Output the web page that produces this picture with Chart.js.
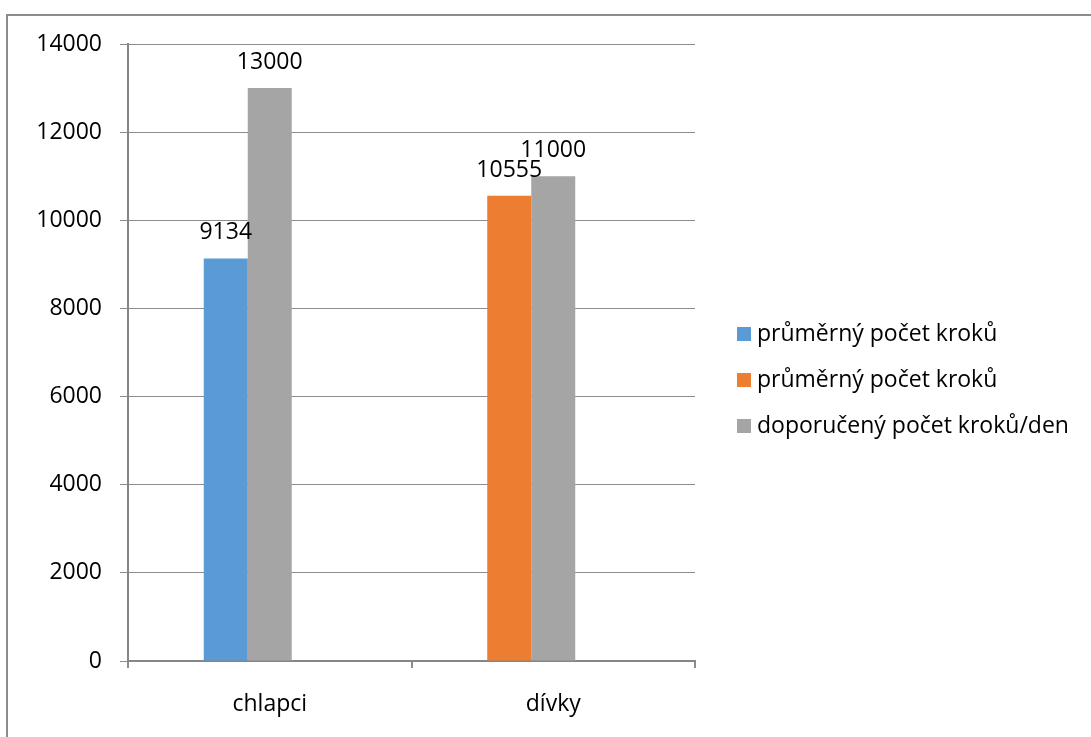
<!DOCTYPE html>
<html>
<head>
<meta charset="utf-8">
<script src="https://cdn.jsdelivr.net/npm/chart.js@4.4.1/dist/chart.umd.min.js"></script>
<style>
  html, body { margin: 0; padding: 0; background: #fff; }
  #wrap { position: relative; width: 1091px; height: 737px; overflow: hidden; }
  #frame { position: absolute; left: 6px; top: 14px; width: 1200px; height: 800px;
           border-top: 2px solid #8c8c8c; border-left: 2px solid #8c8c8c; pointer-events: none; }
</style>
</head>
<body>
<div id="wrap">
  <canvas id="steps"></canvas>
  <div id="frame"></div>
</div>
<script>
    // data
    var categories = ["chlapci", "dívky"];
    var boysAvg = [9134, null];
    var girlsAvg = [null, 10555];
    var recommended = [13000, 11000];
    var seriesNames = ["průměrný počet kroků", "průměrný počet kroků", "doporučený počet kroků/den"];
    var yMin = 0, yMax = 14000, yStep = 2000;

    var blue = "#5B9BD5", orange = "#ED7D31", grey = "#A5A5A5";
    var font = "'Open Sans', sans-serif";
    var fontSize = 23;

    Chart.defaults.color = "#000000";
    Chart.defaults.font.family = font;
    Chart.defaults.font.size = fontSize;

    // values above the bars
    var valueLabels = {
        id: "valueLabels",
        afterDatasetsDraw: function (chart) {
            var ctx = chart.ctx;
            ctx.save();
            ctx.font = fontSize + "px " + font;
            ctx.fillStyle = "#000";
            ctx.textAlign = "center";
            ctx.textBaseline = "alphabetic";
            chart.data.datasets.forEach(function (ds, i) {
                if (ds.phantom) return;
                chart.getDatasetMeta(i).data.forEach(function (bar, j) {
                    var v = ds.data[j];
                    if (v === null || v === undefined) return;
                    ctx.fillText(String(v), bar.x, bar.y - 19);
                });
            });
            ctx.restore();
        }
    };

    // legend on the right, Excel style
    var sideLegend = {
        id: "sideLegend",
        afterDraw: function (chart) {
            var ctx = chart.ctx;
            var colors = [blue, orange, grey];
            var x = chart.chartArea.right + 42;
            var y = chart.chartArea.top + 290;
            ctx.save();
            ctx.font = fontSize + "px " + font;
            ctx.textAlign = "left";
            ctx.textBaseline = "alphabetic";
            seriesNames.forEach(function (name, i) {
                var cy = y + i * 46;
                ctx.fillStyle = colors[i];
                ctx.fillRect(x, cy - 7, 14, 14);
                ctx.fillStyle = "#000";
                ctx.fillText(name, x + 20, cy + 7);
            });
            ctx.restore();
        }
    };

    var ctx = document.getElementById("steps").getContext("2d");
    var myChart = new Chart(ctx, {
        type: "bar",
        data: {
            labels: categories,
            datasets: [{
                    label: seriesNames[0],
                    data: boysAvg,
                    backgroundColor: blue,
                    stack: "a"
                },
                {
                    label: seriesNames[1],
                    data: girlsAvg,
                    backgroundColor: orange,
                    stack: "a"
                },
                {
                    label: seriesNames[2],
                    data: recommended,
                    backgroundColor: grey,
                    stack: "b"
                },
                {
                    // empty third slot, as in the original sheet
                    label: "",
                    data: [null, null],
                    stack: "c",
                    phantom: true
                }
            ]
        },
        options: {
            responsive: true,
            maintainAspectRatio: false,
            animation: false,
            datasets: {
                bar: { categoryPercentage: 0.4656, barPercentage: 1.0 }
            },
            layout: { padding: { left: 0, top: 44, right: 396, bottom: 0 } },
            plugins: {
                legend: { display: false },
                tooltip: { enabled: false }
            },
            scales: {
                x: {
                    stacked: true,
                    afterFit: function (s) { s.height = 76; },
                    grid: { drawOnChartArea: false, drawTicks: true, tickLength: 7, color: "#8c8c8c", lineWidth: 2 },
                    border: { display: true, color: "#868686", width: 2 },
                    ticks: { padding: 23, color: "#000" }
                },
                y: {
                    stacked: true,
                    min: yMin,
                    max: yMax,
                    afterFit: function (s) { s.width = 128; },
                    grid: { color: "#8c8c8c", lineWidth: 1, tickLength: 8 },
                    border: { display: true, color: "#868686", width: 2 },
                    ticks: {
                        stepSize: yStep,
                        padding: 18,
                        color: "#000",
                        callback: function (v) { return String(v); }
                    }
                }
            }
        },
        plugins: [valueLabels, sideLegend]
    });
</script>
</body>
</html>
